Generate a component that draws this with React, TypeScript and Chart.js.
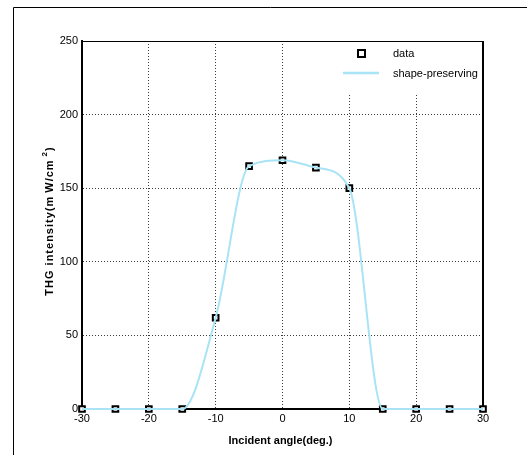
import React, { useEffect, useRef } from 'react';
import { Chart, registerables } from 'chart.js';

Chart.register(...registerables);

const angles = [-30, -25, -20, -15, -10, -5, 0, 5, 10, 15, 20, 25, 30];
const intensity = [0, 0, 0, 0, 62, 165, 169, 164, 150, 0, 0, 0, 0];
const xRange = [-30, 30];
const yRange = [0, 250];
const xStep = 10;
const yStep = 50;
const legendLabels = ['data', 'shape-preserving'];
const xTitle = 'Incident angle(deg.)';
const yTitleParts = ['THG intensity(m', 'W/cm', '2', ')'];

const FONT = '"Liberation Sans", Arial, sans-serif';
const CURVE = '#a8e4f6';

const decorPlugin = {
  id: 'decor',
  beforeDatasetsDraw(chart: any) {
    const { ctx, chartArea: a } = chart;
    ctx.save();
    // outer figure frame
    ctx.strokeStyle = '#000';
    ctx.lineWidth = 1;
    ctx.beginPath();
    ctx.moveTo(13.5, 455);
    ctx.lineTo(13.5, 7.5);
    ctx.lineTo(527, 7.5);
    ctx.stroke();
    // top & right of axes box
    ctx.lineWidth = 1;
    ctx.beginPath();
    ctx.moveTo(a.left, a.top + 0.5);
    ctx.lineTo(a.right, a.top + 0.5);
    ctx.stroke();
    ctx.lineWidth = 2;
    ctx.beginPath();
    ctx.moveTo(a.right, a.top);
    ctx.lineTo(a.right, a.bottom);
    ctx.stroke();
    // axis titles
    ctx.fillStyle = '#000';
    ctx.font = `bold 11px ${FONT}`;
    ctx.textAlign = 'center';
    ctx.textBaseline = 'middle';
    ctx.fillText(xTitle, (a.left + a.right) / 2 - 2, 441);
    // y title rotated with superscript
    ctx.translate(50, 221);
    ctx.rotate(-Math.PI / 2);
    (ctx as any).letterSpacing = '1px';
    const f1 = `bold 11px ${FONT}`;
    const f2 = `bold 8px ${FONT}`;
    ctx.font = f1;
    const w0 = ctx.measureText(yTitleParts[0]).width;
    const w1 = ctx.measureText(yTitleParts[1]).width;
    const w3 = ctx.measureText(yTitleParts[3]).width;
    ctx.font = f2;
    const w2 = ctx.measureText(yTitleParts[2]).width;
    const gap = 3;
    const total = w0 + gap + w1 + gap + w2 + w3;
    let x = -total / 2;
    ctx.textAlign = 'left';
    ctx.font = f1;
    ctx.fillText(yTitleParts[0], x, 0);
    x += w0 + gap;
    ctx.fillText(yTitleParts[1], x, 0);
    x += w1 + gap;
    ctx.font = f2;
    ctx.fillText(yTitleParts[2], x, -5);
    x += w2;
    ctx.font = f1;
    ctx.fillText(yTitleParts[3], x, 0);
    ctx.restore();
  },
  afterDatasetsDraw(chart: any) {
    const { ctx, chartArea: a } = chart;
    ctx.save();
    const lx = 335;
    ctx.fillStyle = '#fff';
    ctx.fillRect(lx, a.top + 1, a.right - 1 - lx, 53);
    // marker sample
    ctx.strokeStyle = '#000';
    ctx.lineWidth = 2;
    ctx.strokeRect(358, 50, 7, 7);
    // line sample
    ctx.strokeStyle = CURVE;
    ctx.lineWidth = 2.5;
    ctx.beginPath();
    ctx.moveTo(343, 73);
    ctx.lineTo(379, 73);
    ctx.stroke();
    ctx.fillStyle = '#000';
    ctx.font = `11px ${FONT}`;
    ctx.textAlign = 'left';
    ctx.textBaseline = 'middle';
    ctx.fillText(legendLabels[0], 393, 54);
    ctx.fillText(legendLabels[1], 393, 74);
    ctx.restore();
  },
};

export default function App() {
  const ref = useRef<HTMLCanvasElement>(null);
  useEffect(() => {
    if (!ref.current) return;
    const pts = angles.map((x, i) => ({ x, y: intensity[i] }));
    const chart = new Chart(ref.current, {
      type: 'scatter',
      data: {
        datasets: [
          {
            label: legendLabels[1],
            data: pts,
            showLine: true,
            cubicInterpolationMode: 'monotone',
            borderColor: CURVE,
            borderWidth: 2,
            pointRadius: 0,
            clip: false,
            order: 0,
          } as any,
          {
            label: legendLabels[0],
            data: pts,
            showLine: false,
            pointStyle: 'rect',
            pointRadius: 4,
            borderColor: '#000',
            backgroundColor: '#fff',
            borderWidth: 2,
            clip: false,
            order: 1,
          } as any,
        ],
      },
      options: {
        responsive: false,
        animation: false,
        layout: { padding: { left: 0, top: 41, right: 44, bottom: 0 } },
        plugins: { legend: { display: false }, tooltip: { enabled: false } },
        scales: {
          x: {
            type: 'linear',
            min: xRange[0],
            max: xRange[1],
            afterFit: (s: any) => { s.height = 46; },
            ticks: { stepSize: xStep, color: '#000', font: { family: FONT, size: 11 }, padding: 3, maxRotation: 0 },
            grid: { color: '#3a3a3a', lineWidth: 1, drawTicks: false },
            border: { display: true, color: '#000', width: 2, dash: [1, 2] },
          },
          y: {
            type: 'linear',
            min: yRange[0],
            max: yRange[1],
            afterFit: (s: any) => { s.width = 82; },
            ticks: { stepSize: yStep, color: '#000', font: { family: FONT, size: 11 }, padding: 4 },
            grid: { color: '#3a3a3a', lineWidth: 1, drawTicks: false },
            border: { display: true, color: '#000', width: 2, dash: [1, 2] },
          },
        },
      },
      plugins: [decorPlugin],
    });
    return () => chart.destroy();
  }, []);
  return (
    <div style={{ position: 'absolute', left: 0, top: 0, width: 527, height: 455, background: '#fff' }}>
      <canvas ref={ref} width={527} height={455} style={{ display: 'block' }} />
    </div>
  );
}
